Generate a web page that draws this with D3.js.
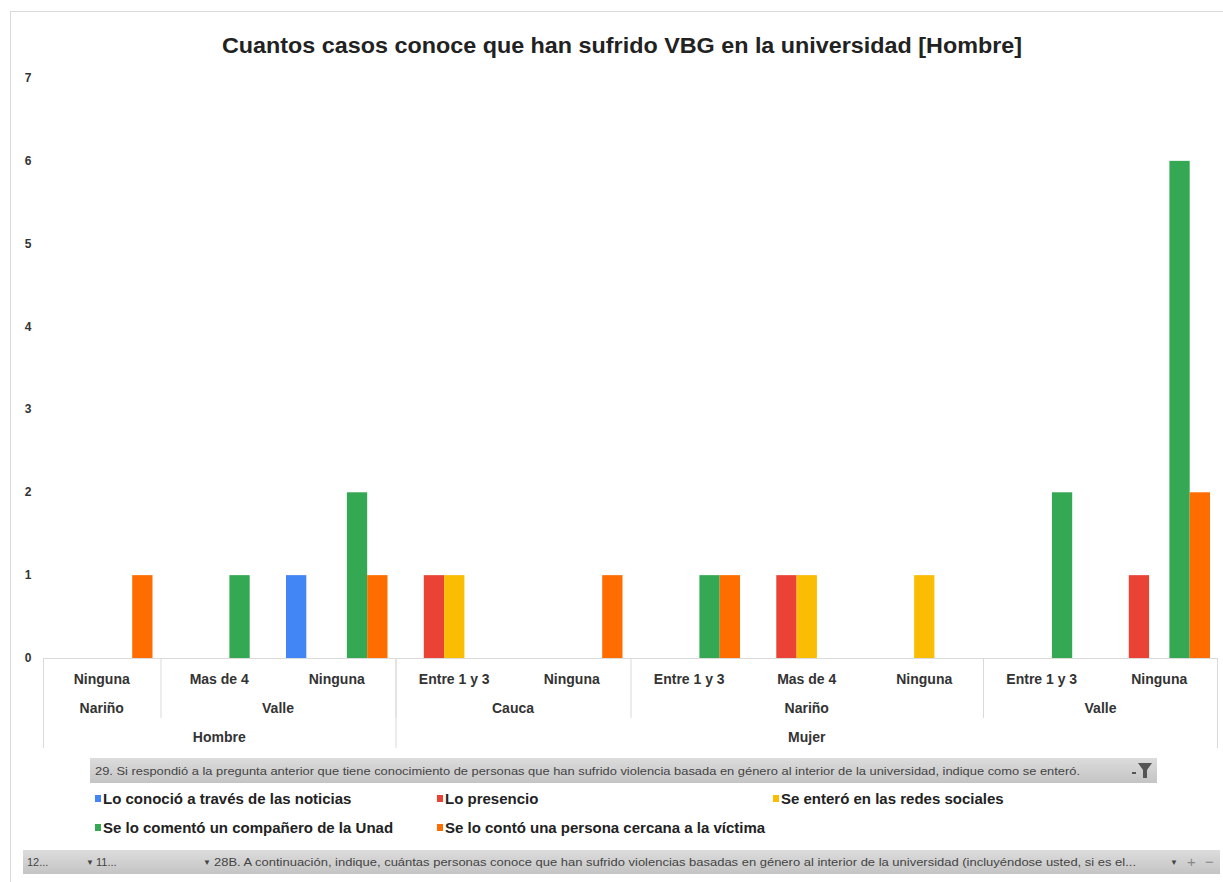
<!DOCTYPE html>
<html>
<head>
<meta charset="utf-8">
<script src="https://cdn.jsdelivr.net/npm/d3@7"></script>
<style>
  html, body { margin: 0; padding: 0; background: #fff; }
  svg { display: block; font-family: "Liberation Sans", Arial, sans-serif; }
</style>
</head>
<body>
<svg id="chart" width="1223" height="882"></svg>
<script>
// ---------- data ----------
const categories = ["Ninguna", "Mas de 4", "Ninguna", "Entre 1 y 3", "Ninguna", "Entre 1 y 3", "Mas de 4", "Ninguna", "Entre 1 y 3", "Ninguna"];
const regions    = ["Nariño", "Valle", "Valle", "Cauca", "Cauca", "Nariño", "Nariño", "Nariño", "Valle", "Valle"];
const genders    = ["Hombre", "Hombre", "Hombre", "Mujer", "Mujer", "Mujer", "Mujer", "Mujer", "Mujer", "Mujer"];

const seriesNames = [
  "Lo conoció a través de las noticias",
  "Lo presencio",
  "Se enteró en las redes sociales",
  "Se lo comentó un compañero de la Unad",
  "Se lo contó una persona cercana a la víctima"
];
const seriesColors = ["#4285f4", "#ea4335", "#fbbc04", "#34a853", "#ff6d01"];

const noticias   = [0, 0, 1, 0, 0, 0, 0, 0, 0, 0];
const presencio  = [0, 0, 0, 1, 0, 0, 1, 0, 0, 1];
const redes      = [0, 0, 0, 1, 0, 0, 1, 1, 0, 0];
const companero  = [0, 1, 2, 0, 0, 1, 0, 0, 2, 6];
const cercana    = [1, 0, 1, 0, 1, 1, 0, 0, 0, 2];
const seriesValues = [noticias, presencio, redes, companero, cercana];

const yTicks = [0, 1, 2, 3, 4, 5, 6, 7];

const titleText = "Cuantos casos conoce que han sufrido VBG en la universidad [Hombre]";
const filterField = "29. Si respondió a la pregunta anterior que tiene conocimiento de personas que han sufrido violencia basada en género al interior de la universidad, indique como se enteró.";
const rowFields = ["12...", "11...", "28B. A continuación, indique, cuántas personas conoce que han sufrido violencias basadas en género al interior de la universidad (incluyéndose usted, si es el..."];

// ---------- layout ----------
const svg = d3.select("#chart");
const plotLeft = 43, plotRight = 1218, plotTop = 78, plotBottom = 658;

const defs = svg.append("defs");
const grad = defs.append("linearGradient").attr("id", "btnGrad").attr("x1", 0).attr("y1", 0).attr("x2", 0).attr("y2", 1);
grad.append("stop").attr("offset", "0%").attr("stop-color", "#dcdcdc");
grad.append("stop").attr("offset", "100%").attr("stop-color", "#c4c4c4");

// outer frame
svg.append("rect").attr("x", 10.5).attr("y", 11.5).attr("width", 1220).attr("height", 880)
  .attr("fill", "#fff").attr("stroke", "#d9d9d9").attr("stroke-width", 1);

// title
svg.append("text").attr("x", 622).attr("y", 53).attr("text-anchor", "middle")
  .attr("font-size", 22).attr("font-weight", "bold").attr("fill", "#222")
  .attr("textLength", 800).attr("lengthAdjust", "spacingAndGlyphs").text(titleText);

// scales
const idx = d3.range(categories.length);
const x = d3.scaleBand().domain(idx).range([plotLeft, plotRight]).padding(0);
const xs = d3.scaleBand().domain(d3.range(seriesNames.length)).range([8, x.bandwidth() - 8]).padding(0);
const y = d3.scaleLinear().domain([0, 7]).range([plotBottom, plotTop]);

// y labels
svg.append("g").selectAll("text").data(yTicks).join("text")
  .attr("x", 28).attr("y", d => y(d) + 4).attr("text-anchor", "middle")
  .attr("font-size", 12).attr("font-weight", "bold").attr("fill", "#333").text(d => d);

// bars
const bars = [];
seriesValues.forEach((vals, s) => vals.forEach((v, i) => { if (v > 0) bars.push({ s, i, v }); }));
svg.append("g").selectAll("rect").data(bars).join("rect")
  .attr("x", d => x(d.i) + xs(d.s))
  .attr("y", d => y(d.v))
  .attr("width", xs.bandwidth())
  .attr("height", d => y(0) - y(d.v))
  .attr("fill", d => seriesColors[d.s]);

// category axis box
const axisG = svg.append("g");
const lineCol = "#dadada";
axisG.append("line").attr("x1", plotLeft).attr("x2", plotRight).attr("y1", plotBottom + 0.5).attr("y2", plotBottom + 0.5)
  .attr("stroke", lineCol);
axisG.append("line").attr("x1", plotLeft + 0.5).attr("x2", plotLeft + 0.5).attr("y1", plotBottom).attr("y2", 748).attr("stroke", lineCol);
axisG.append("line").attr("x1", plotRight - 0.5).attr("x2", plotRight - 0.5).attr("y1", plotBottom).attr("y2", 748).attr("stroke", lineCol);

// level-1 labels
axisG.selectAll("text.l1").data(idx).join("text").attr("class", "l1")
  .attr("x", i => x(i) + x.bandwidth() / 2).attr("y", 684).attr("text-anchor", "middle")
  .attr("font-size", 14).attr("font-weight", "bold").attr("fill", "#333").text(i => categories[i]);

// groups for level 2 and level 3
function groupsOf(keyFn) {
  const out = [];
  idx.forEach(i => {
    const k = keyFn(i);
    const last = out[out.length - 1];
    if (last && last.key === k) last.end = i; else out.push({ key: k, start: i, end: i });
  });
  return out;
}
const g2 = groupsOf(i => genders[i] + "|" + regions[i]).map(g => ({ ...g, label: regions[g.start] }));
const g3 = groupsOf(i => genders[i]).map(g => ({ ...g, label: genders[g.start] }));

axisG.selectAll("text.l2").data(g2).join("text").attr("class", "l2")
  .attr("x", g => (x(g.start) + x(g.end) + x.bandwidth()) / 2).attr("y", 713).attr("text-anchor", "middle")
  .attr("font-size", 14).attr("font-weight", "bold").attr("fill", "#333").text(g => g.label);
axisG.selectAll("line.s2").data(g2.slice(1)).join("line").attr("class", "s2")
  .attr("x1", g => x(g.start) + 0.5).attr("x2", g => x(g.start) + 0.5)
  .attr("y1", plotBottom).attr("y2", 718).attr("stroke", lineCol);

axisG.selectAll("text.l3").data(g3).join("text").attr("class", "l3")
  .attr("x", g => (x(g.start) + x(g.end) + x.bandwidth()) / 2).attr("y", 742).attr("text-anchor", "middle")
  .attr("font-size", 14).attr("font-weight", "bold").attr("fill", "#333").text(g => g.label);
axisG.selectAll("line.s3").data(g3.slice(1)).join("line").attr("class", "s3")
  .attr("x1", g => x(g.start) + 0.5).attr("x2", g => x(g.start) + 0.5)
  .attr("y1", plotBottom).attr("y2", 748).attr("stroke", lineCol);

// filter field button
svg.append("rect").attr("x", 90).attr("y", 758).attr("width", 1067).attr("height", 25).attr("fill", "url(#btnGrad)");
svg.append("text").attr("x", 95).attr("y", 775).attr("font-size", 11).attr("fill", "#444")
  .attr("textLength", 985).attr("lengthAdjust", "spacingAndGlyphs").text(filterField);
// funnel icon
svg.append("path").attr("d", "M1138,763 L1152,763 L1147,770 L1147,778 L1143,778 L1143,770 Z").attr("fill", "#555");
svg.append("rect").attr("x", 1132).attr("y", 772).attr("width", 4).attr("height", 2).attr("fill", "#555");

// legend
const legendPos = [[95, 799], [437, 799], [773, 799], [95, 828], [437, 828]];
const leg = svg.append("g").selectAll("g").data(seriesNames).join("g")
  .attr("transform", (d, i) => `translate(${legendPos[i][0]},${legendPos[i][1]})`);
leg.append("rect").attr("x", 0).attr("y", -4).attr("width", 6).attr("height", 7).attr("fill", (d, i) => seriesColors[i]);
leg.append("text").attr("x", 8).attr("y", 5).attr("font-size", 15).attr("font-weight", "bold").attr("fill", "#222").text(d => d);

// row field buttons bar
svg.append("rect").attr("x", 23).attr("y", 850).attr("width", 1197).attr("height", 24).attr("fill", "url(#btnGrad)");
const rowG = svg.append("g").attr("font-size", 11).attr("fill", "#444");
rowG.append("text").attr("x", 27).attr("y", 866).text(rowFields[0]);
rowG.append("text").attr("x", 86).attr("y", 865).attr("font-size", 8).text("▼");
rowG.append("text").attr("x", 96).attr("y", 866).text(rowFields[1]);
rowG.append("text").attr("x", 203).attr("y", 865).attr("font-size", 8).text("▼");
rowG.append("text").attr("x", 214).attr("y", 866).attr("textLength", 922).attr("lengthAdjust", "spacingAndGlyphs").text(rowFields[2]);
rowG.append("text").attr("x", 1170).attr("y", 865).attr("font-size", 8).text("▼");
rowG.append("text").attr("x", 1187).attr("y", 867).attr("font-size", 15).attr("fill", "#888").text("+");
rowG.append("text").attr("x", 1205).attr("y", 867).attr("font-size", 15).attr("fill", "#888").text("−");
</script>
</body>
</html>
